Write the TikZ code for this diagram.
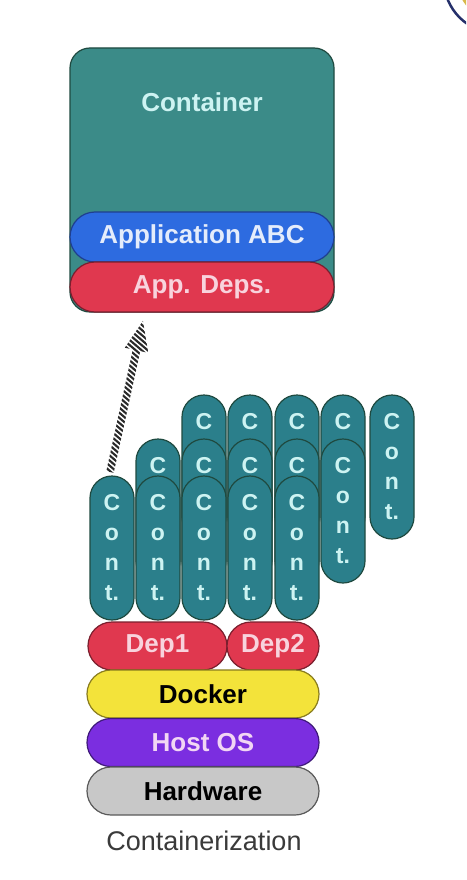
\documentclass[tikz,border=0pt]{standalone}
\usepackage{fontspec}
\setmainfont{Liberation Sans}
\usetikzlibrary{calc}
\definecolor{teal1}{HTML}{3B8B88}
\definecolor{teal2}{HTML}{2B7F8B}
\definecolor{tealline}{HTML}{1F4A40}
\definecolor{tealtext}{HTML}{CDF3F2}
\definecolor{blue1}{HTML}{2D6BE0}
\definecolor{blueline}{HTML}{1F3F8F}
\definecolor{bluetext}{HTML}{E4ECFB}
\definecolor{red1}{HTML}{E0384F}
\definecolor{redline}{HTML}{7A1F2E}
\definecolor{redtext}{HTML}{F8D3DD}
\definecolor{yel}{HTML}{F3E33A}
\definecolor{yelline}{HTML}{8A7D1E}
\definecolor{purp}{HTML}{7B2EE0}
\definecolor{purpline}{HTML}{3F1A7A}
\definecolor{purptext}{HTML}{F2D6F4}
\definecolor{gry}{HTML}{C8C8C8}
\definecolor{gryline}{HTML}{5A5A5A}
\definecolor{navy}{HTML}{25306B}
\definecolor{logoyel}{HTML}{D8B84A}
\definecolor{captext}{HTML}{3A3A3A}
\definecolor{stripecol}{HTML}{2A2A2A}
\begin{document}
\begin{tikzpicture}[x=1pt,y=-1pt,
  base/.style={rectangle, inner sep=0pt, outer sep=0pt, line width=1.2pt,
    font=\fontsize{26}{30}\selectfont\bfseries},
  bar/.style={base, rounded corners=24pt, minimum height=48pt},
  wbar/.style={base, rounded corners=25pt, minimum height=50pt, minimum width=264pt},
  redbar/.style={fill=red1, draw=redline, text=redtext},
  contfont/.style={font=\fontsize{23}{30}\selectfont\bfseries, text=tealtext},
  contpill/.style={base, rounded corners=22pt, minimum width=44pt, minimum height=144pt,
    fill=teal2, draw=tealline, align=center, contfont},
  contletter/.style={inner sep=0pt, contfont},
  stripe/.style={line width=2.1pt, stripecol}
]
\useasboundingbox (0,0) rectangle (466,880);
\fill[white] (0,0) rectangle (466,880);

% partial logo at the top right corner
\begin{scope}
  \clip (0,0) rectangle (466,880);
  \fill[logoyel] (497,-20) circle (40);
  \draw[navy, line width=2.5pt] (497,-20) circle (53);
\end{scope}

% container box
\node[base, rounded corners=20pt, minimum width=264pt, minimum height=264pt,
  fill=teal1, draw=tealline] (container) at (202,180) {};
\node[base, text=tealtext] (containerlabel) at (202,102) {Container};
\node[wbar, fill=blue1, draw=blueline, text=bluetext] (appabc) at (202,237) {Application ABC};
\node[wbar, redbar] (appdeps) at (202,287) {App. Deps.};

% back row of containers (only the top letter of the covered ones shows)
\foreach \x [count=\i from 3] in {204,250,297,343} {
  \node[contpill] (t\i) at (\x,467) {};
  \node[contletter] (t\i c) at ($(t\i.center)+(0,-45)$) {C};
}
\node[contpill] (t7) at (392,467) {C\\o\\n\\t.};
% middle row
\foreach \x [count=\i from 2] in {158,204,250,297} {
  \node[contpill] (m\i) at (\x,511) {};
  \node[contletter] (m\i c) at ($(m\i.center)+(0,-45)$) {C};
}
\node[contpill] (m6) at (343,511) {C\\o\\n\\t.};
% front row
\foreach \x [count=\i from 1] in {112,158,204,250,297}
  \node[contpill] (b\i) at (\x,548) {C\\o\\n\\t.};

% stack
\node[bar, redbar, minimum width=139pt] (dep1) at (157.5,646) {Dep1};
\node[bar, redbar, minimum width=92pt] (dep2) at (273,646) {Dep2};
\node[bar, minimum width=232pt, fill=yel, draw=yelline, text=black] (docker) at (203,694) {Docker};
\node[bar, minimum width=232pt, fill=purp, draw=purpline, text=purptext] (hostos) at (203,742.5) {Host OS};
\node[bar, minimum width=232pt, fill=gry, draw=gryline, text=black] (hardware) at (203,791) {Hardware};
\node[inner sep=0pt, text=captext, font=\fontsize{27}{30}\selectfont] (caption) at (204,841) {Containerization};

% hatched arrow from the first container up to the app deps
\coordinate (a0) at ($(b1.north)+(-2,-4)$);
\coordinate (a1) at ($(appdeps.south)+(-59,9)$);
\begin{scope}[shift={(a0)}, rotate=77.7]
  \clip (0pt,-3.8pt) -- (124.6pt,-3.8pt) -- (124.6pt,-12pt) -- (154.6pt,0pt)
        -- (124.6pt,12pt) -- (124.6pt,3.8pt) -- (0pt,3.8pt) -- cycle;
  \foreach \s in {-8,-3.6,...,166}
    \draw[stripe] ({(\s-6.4)*1pt},-12pt) -- ({(\s+6.4)*1pt},12pt);
\end{scope}
\end{tikzpicture}
\end{document}
